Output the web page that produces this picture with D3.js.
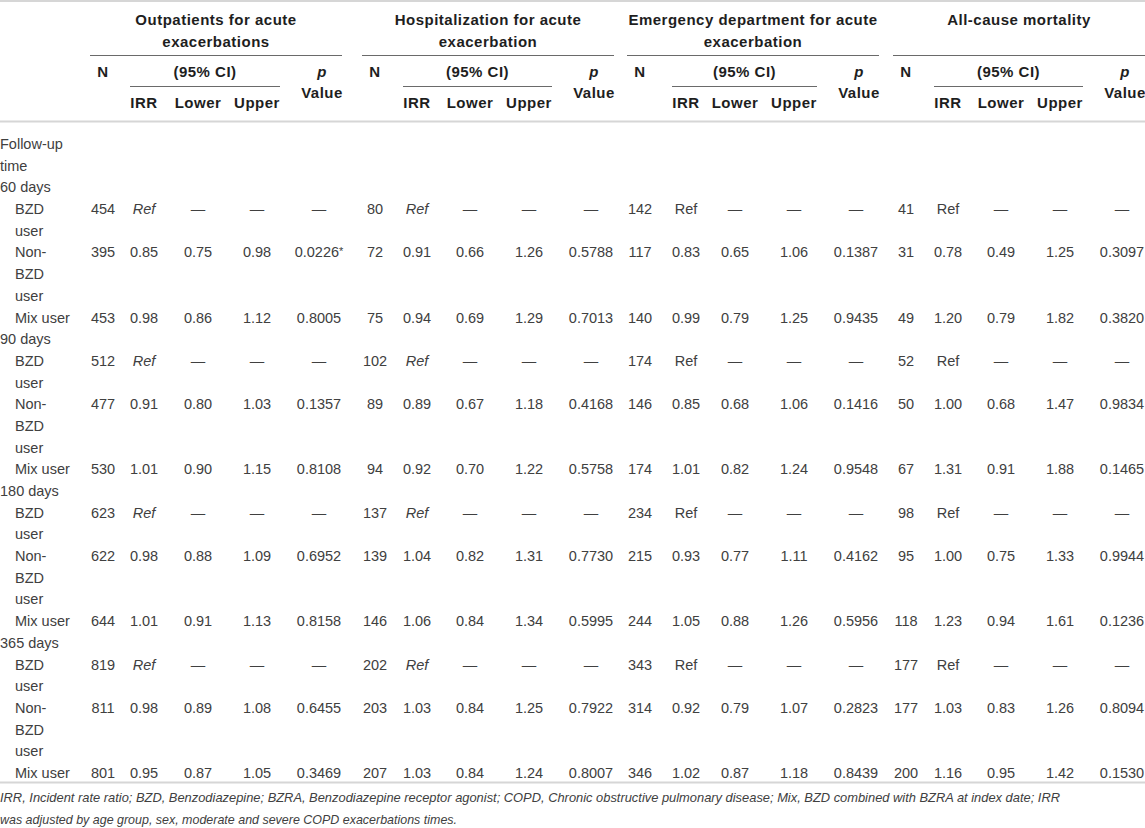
<!DOCTYPE html>
<html>
<head>
<meta charset="utf-8">
<script src="https://cdn.jsdelivr.net/npm/d3@7"></script>
<style>
body { margin: 0; background: white; }
svg text { font-family: "Liberation Sans", Arial, sans-serif; font-size: 14.5px; }
.head { font-weight: bold; fill: #1e1e1e; font-size: 15px; letter-spacing: 0.5px; }
.head text { font-size: 15px; }
.cell { fill: #404040; }
.note { font-style: italic; fill: #404040; }
svg text.note { font-size: 13px; }
</style>
</head>
<body>
<script>

const outcomes = ["Outpatients for acute|exacerbations", "Hospitalization for acute|exacerbation",
                  "Emergency department for acute|exacerbation", "All-cause mortality"];
const periods = ["60 days", "90 days", "180 days", "365 days"];
const userGroups = [["BZD", "user"], ["Non-", "BZD", "user"], ["Mix user"]];

// one entry per outcome, 12 rows each (period x user group)
const nValues = [
  [454, 395, 453, 512, 477, 530, 623, 622, 644, 819, 811, 801],
  [80, 72, 75, 102, 89, 94, 137, 139, 146, 202, 203, 207],
  [142, 117, 140, 174, 146, 174, 234, 215, 244, 343, 314, 346],
  [41, 31, 49, 52, 50, 67, 98, 95, 118, 177, 177, 200]
];
const irrValues = [
  ["Ref", "0.85", "0.98", "Ref", "0.91", "1.01", "Ref", "0.98", "1.01", "Ref", "0.98", "0.95"],
  ["Ref", "0.91", "0.94", "Ref", "0.89", "0.92", "Ref", "1.04", "1.06", "Ref", "1.03", "1.03"],
  ["Ref", "0.83", "0.99", "Ref", "0.85", "1.01", "Ref", "0.93", "1.05", "Ref", "0.92", "1.02"],
  ["Ref", "0.78", "1.20", "Ref", "1.00", "1.31", "Ref", "1.00", "1.23", "Ref", "1.03", "1.16"]
];
const lowerValues = [
  ["—", "0.75", "0.86", "—", "0.80", "0.90", "—", "0.88", "0.91", "—", "0.89", "0.87"],
  ["—", "0.66", "0.69", "—", "0.67", "0.70", "—", "0.82", "0.84", "—", "0.84", "0.84"],
  ["—", "0.65", "0.79", "—", "0.68", "0.82", "—", "0.77", "0.88", "—", "0.79", "0.87"],
  ["—", "0.49", "0.79", "—", "0.68", "0.91", "—", "0.75", "0.94", "—", "0.83", "0.95"]
];
const upperValues = [
  ["—", "0.98", "1.12", "—", "1.03", "1.15", "—", "1.09", "1.13", "—", "1.08", "1.05"],
  ["—", "1.26", "1.29", "—", "1.18", "1.22", "—", "1.31", "1.34", "—", "1.25", "1.24"],
  ["—", "1.06", "1.25", "—", "1.06", "1.24", "—", "1.11", "1.26", "—", "1.07", "1.18"],
  ["—", "1.25", "1.82", "—", "1.47", "1.88", "—", "1.33", "1.61", "—", "1.26", "1.42"]
];
const pValues = [
  ["—", "0.0226*", "0.8005", "—", "0.1357", "0.8108", "—", "0.6952", "0.8158", "—", "0.6455", "0.3469"],
  ["—", "0.5788", "0.7013", "—", "0.4168", "0.5758", "—", "0.7730", "0.5995", "—", "0.7922", "0.8007"],
  ["—", "0.1387", "0.9435", "—", "0.1416", "0.9548", "—", "0.4162", "0.5956", "—", "0.2823", "0.8439"],
  ["—", "0.3097", "0.3820", "—", "0.9834", "0.1465", "—", "0.9944", "0.1236", "—", "0.8094", "0.1530"]
];
const italicRef = [true, true, false, false];
const colKeys = ["N", "IRR", "Lower", "Upper", "p"];
const footnote = [
  "IRR, Incident rate ratio; BZD, Benzodiazepine; BZRA, Benzodiazepine receptor agonist; COPD, Chronic obstructive pulmonary disease; Mix, BZD combined with BZRA at index date; IRR",
  "was adjusted by age group, sex, moderate and severe COPD exacerbations times."
];
const footnoteWidth = [1060, 457];

const W = 1145, H = 828;
const svg = d3.select("body").append("svg").attr("width", W).attr("height", H);

// group spans and column centres inside each group
const groupStart = [90, 362, 627, 893];
const groupWidth = 252;
const colOffset = d3.scaleOrdinal().domain(colKeys).range([13, 55, 108, 167, 229]);
const irrShift = [-1, 0, 4, 0];
const colX = (g, k) => groupStart[g] + colOffset(k) + (k === "IRR" ? irrShift[g] : 0);

// body lines
const yLine = d3.scaleLinear().domain([0, 29]).range([144, 773]);

// build the list of text lines for the first column and the data row anchors
const labelLines = [{t: "Follow-up", indent: 0}, {t: "time", indent: 0}];
const dataRows = [];
periods.forEach((p, pi) => {
  labelLines.push({t: p, indent: 0});
  userGroups.forEach((ug, gi) => {
    dataRows.push({line: labelLines.length, idx: pi * 3 + gi});
    ug.forEach(t => labelLines.push({t: t, indent: 15}));
  });
});

// rules
const rule = (x1, x2, y, col, w) => svg.append("line")
  .attr("x1", x1).attr("x2", x2).attr("y1", y).attr("y2", y)
  .attr("stroke", col).attr("stroke-width", w);
rule(0, W, 1, "#d6d6d6", 2);
rule(0, W, 121.5, "#d6d6d6", 2);
rule(0, W, 782.5, "#d6d6d6", 2);

const head = svg.append("g").attr("class", "head");
outcomes.forEach((o, g) => {
  const cx = groupStart[g] + groupWidth / 2;
  o.split("|").forEach((t, i) => {
    head.append("text").attr("x", cx).attr("y", 25 + i * 21.5)
      .attr("text-anchor", "middle").text(t);
  });
  rule(groupStart[g], groupStart[g] + groupWidth, 55.5, "#6a6a6a", 1);
  rule(colX(g, "IRR") - 14, colX(g, "Upper") + 23, 86.5, "#6a6a6a", 1);
  head.append("text").attr("x", colX(g, "N")).attr("y", 77).attr("text-anchor", "middle").text("N");
  head.append("text").attr("x", (colX(g, "IRR") - 14 + colX(g, "Upper") + 23) / 2).attr("y", 77)
    .attr("text-anchor", "middle").text("(95% CI)");
  ["IRR", "Lower", "Upper"].forEach(k => {
    head.append("text").attr("x", colX(g, k)).attr("y", 108).attr("text-anchor", "middle").text(k);
  });
  head.append("text").attr("x", colX(g, "p") + 3).attr("y", 77).attr("text-anchor", "middle")
    .style("font-style", "italic").text("p");
  head.append("text").attr("x", colX(g, "p") + 3).attr("y", 98).attr("text-anchor", "middle").text("Value");
});

// first column
svg.append("g").selectAll("text").data(labelLines).join("text")
  .attr("class", "cell")
  .attr("x", d => d.indent)
  .attr("y", (d, i) => yLine(i) + 5)
  .text(d => d.t);

// data cells
const body = svg.append("g");
outcomes.forEach((o, g) => {
  const cols = {N: nValues[g], IRR: irrValues[g], Lower: lowerValues[g], Upper: upperValues[g], p: pValues[g]};
  colKeys.forEach(k => {
    body.selectAll(null).data(dataRows).join("text")
      .attr("class", "cell")
      .attr("x", colX(g, k))
      .attr("y", d => yLine(d.line) + 5)
      .attr("text-anchor", "middle")
      .style("font-style", d => (cols[k][d.idx] === "Ref" && italicRef[g]) ? "italic" : null)
      .each(function(d) {
        const v = String(cols[k][d.idx]);
        const el = d3.select(this);
        if (v.endsWith("*")) {
          el.append("tspan").text(v.slice(0, -1));
          el.append("tspan").attr("font-size", "11px").attr("dy", -2).text("*");
        } else {
          el.text(v);
        }
      });
  });
});

// footnote
svg.append("g").selectAll("text").data(footnote).join("text")
  .attr("class", "note")
  .attr("x", 0)
  .attr("y", (d, i) => 802 + i * 21.5)
  .attr("textLength", (d, i) => footnoteWidth[i])
  .attr("lengthAdjust", "spacingAndGlyphs")
  .text(d => d);

</script>
</body>
</html>
